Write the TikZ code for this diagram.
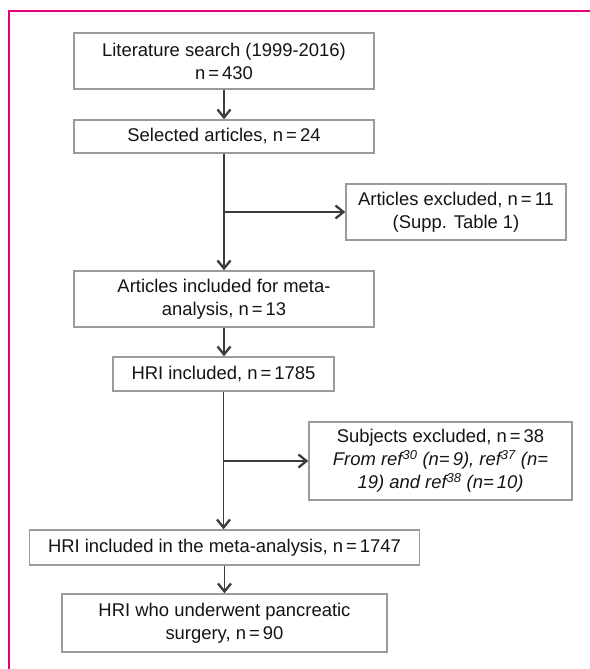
\documentclass[tikz,border=0pt]{standalone}
\usepackage{fontspec}
\setmainfont{Liberation Sans}
\usetikzlibrary{arrows.meta,positioning}
\definecolor{MagentaMarco}{RGB}{228,0,124}
\definecolor{GrisCaja}{RGB}{155,155,155}
\definecolor{GrisFlecha}{RGB}{60,60,60}
\tikzset{
  caja/.style={draw=GrisCaja,line width=1.4bp,align=center,inner sep=0pt,
    text=black!92,font=\fontsize{18.5}{23}\selectfont},
  flecha/.style={-{Straight Barb[length=8bp,width=13bp,line width=2.3bp]},
    GrisFlecha,line width=1.4bp},
}

\begin{document}
\begin{tikzpicture}[x=1bp,y=1bp]
  \useasboundingbox (0,0) rectangle (590,-669);
  % marco
  \draw[MagentaMarco,line width=2.2bp] (9,-669) -- (9,-11) -- (590,-11);
  % cajas
  \node[caja,minimum width=300bp,minimum height=56bp] (busq) at (224,-61)
    {Literature search (1999-2016)\\n\,=\,430};
  \node[caja,minimum width=300bp,minimum height=33bp] (selec) at (224,-136.5)
    {Selected articles, n\,=\,24};
  \node[caja,minimum width=220bp,minimum height=56bp] (artexc) at (456,-212)
    {Articles excluded, n\,=\,11\\(Supp. Table 1)};
  \node[caja,minimum width=300bp,minimum height=56bp] (artinc) at (224,-299)
    {Articles included for meta-\\analysis, n\,=\,13};
  \node[caja,minimum width=221bp,minimum height=34bp] (hri) at (223.5,-374)
    {HRI included, n\,=\,1785};
  \node[caja,minimum width=263bp,minimum height=78bp] (subexc) at (440.5,-461)
    {Subjects excluded, n\,=\,38\\
     \itshape From ref\textsuperscript{30} (n=\,9), ref\textsuperscript{37} (n=\\
     \itshape 19) and ref\textsuperscript{38} (n=\,10)};
  \node[caja,minimum width=390bp,minimum height=35bp] (hrimeta) at (224.5,-547.5)
    {HRI included in the meta-analysis, n\,=\,1747};
  \node[caja,minimum width=325bp,minimum height=58bp] (cirug) at (224.5,-623)
    {HRI who underwent pancreatic\\surgery, n\,=\,90};
  % flechas
  \coordinate (ramal1) at (selec.south |- artexc.west);
  \coordinate (ramal2) at (hri.south |- subexc.west);
  \draw[flecha] (busq.south) -- (selec.north);
  \draw[flecha] (selec.south) -- (artinc.north);
  \draw[flecha] (ramal1) -- (artexc.west);
  \draw[flecha] (artinc.south) -- (artinc.south |- hri.north);
  \draw[flecha] (hri.south) -- (hri.south |- hrimeta.north);
  \draw[flecha] (ramal2) -- (subexc.west);
  \draw[flecha] (hrimeta.south) -- (hrimeta.south |- cirug.north);
\end{tikzpicture}
\end{document}
